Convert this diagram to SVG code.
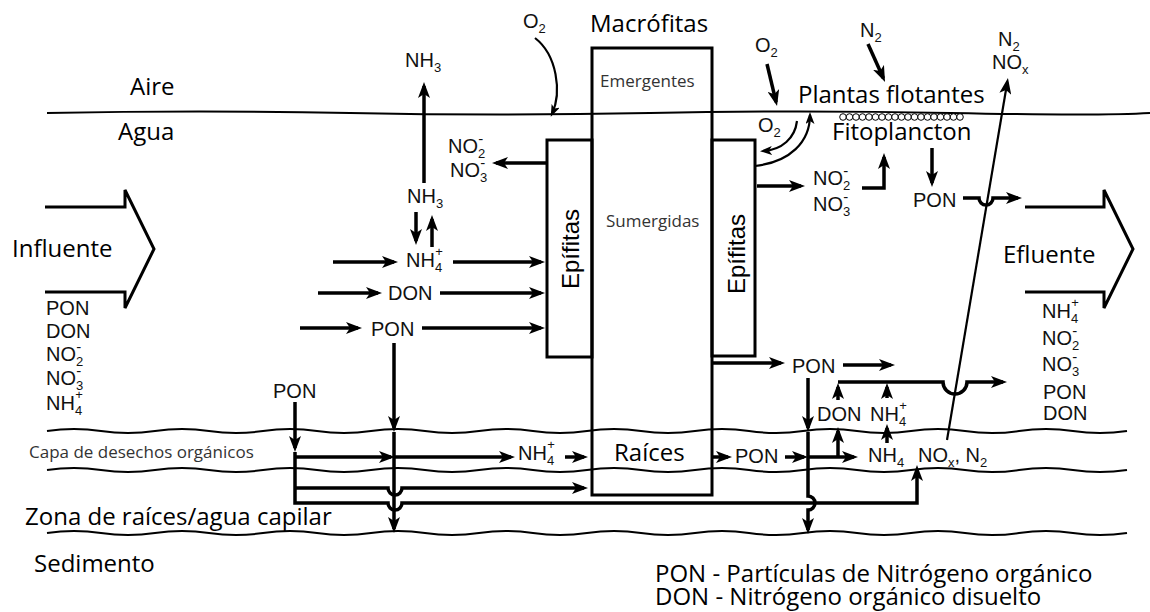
<svg xmlns="http://www.w3.org/2000/svg" width="1150" height="612" viewBox="0 0 1150 612">
<style>
.ln{fill:none;stroke:#000;stroke-width:3.5}
.th{fill:none;stroke:#000;stroke-width:2.2}
.a{marker-end:url(#ah)}
.as{marker-end:url(#asm)}
.box{fill:none;stroke:#000;stroke-width:3}
.wave{fill:none;stroke:#000;stroke-width:2}
.chem{font-family:"Liberation Sans",Arial,sans-serif;font-size:20px;fill:#111}
.sub{font-size:13px}
.sup{font-size:15px}
.lbl{font-family:"Open Sans","Noto Sans",sans-serif;font-size:24px;fill:#000}
.sm{font-family:"Open Sans","Noto Sans",sans-serif;font-size:17px;fill:#333}
.ep{font-family:"Liberation Sans",Arial,sans-serif;font-size:24px;fill:#000}
</style>
<defs>
<marker id="ah" viewBox="0 0 16 12" refX="12" refY="6" markerWidth="16" markerHeight="12" markerUnits="userSpaceOnUse" orient="auto"><path d="M0,0 L16,6 L0,12 L4,6 z" fill="#000"/></marker>
<marker id="asm" viewBox="0 0 12 9" refX="9" refY="4.5" markerWidth="12" markerHeight="9" markerUnits="userSpaceOnUse" orient="auto"><path d="M0,0 L12,4.5 L0,9 L3,4.5 z" fill="#000"/></marker>
</defs>

<g id="layers">
<path class="wave" d="M47,113 Q200,110 350,113 T650,113 T950,113 T1150,113" stroke-width="1.8"/>
<path class="wave" d="M47,431 Q74,427 101,431 T155,431 T209,431 T263,431 T317,431 T371,431 T425,431 T479,431 T533,431 T587,431 T641,431 T695,431 T749,431 T803,431 T857,431 T911,431 T965,431 T1019,431 T1073,431 T1127,431"/>
<path class="wave" d="M47,470 Q74,466 101,470 T155,470 T209,470 T263,470 T317,470 T371,470 T425,470 T479,470 T533,470 T587,470 T641,470 T695,470 T749,470 T803,470 T857,470 T911,470 T965,470 T1019,470 T1073,470 T1127,470"/>
<path class="wave" d="M47,533 Q74,529 101,533 T155,533 T209,533 T263,533 T317,533 T371,533 T425,533 T479,533 T533,533 T587,533 T641,533 T695,533 T749,533 T803,533 T857,533 T911,533 T965,533 T1019,533 T1073,533 T1127,533"/>
</g>

<g id="macrofitas">
<rect class="box" x="592" y="48" width="120" height="447"/>
<text class="lbl" x="590" y="32">Macrófitas</text>
<text class="sm" x="600" y="87">Emergentes</text>
<text class="sm" x="606" y="227" font-size="18">Sumergidas</text>
<text class="lbl" x="614" y="461">Raíces</text>
</g>
<g id="epifitas-izq">
<rect class="box" x="547" y="140" width="45" height="217"/>
<text class="ep" transform="translate(579,249) rotate(-90)" text-anchor="middle">Epífitas</text>
</g>
<g id="epifitas-der">
<rect class="box" x="712" y="140" width="43" height="216"/>
<text class="ep" transform="translate(745,254) rotate(-90)" text-anchor="middle">Epífitas</text>
</g>
<g id="influente">
<path class="box" d="M45,207 H125 V190 L154,249 L125,308 V292 H45"/>
<text class="lbl" x="12" y="257">Influente</text>
<text class="chem" x="46" y="315">PON</text>
<text class="chem" x="46" y="338">DON</text>
<text class="chem" x="46" y="361">NO<tspan class="sub" dy="5">2</tspan><tspan class="sup" dx="-7" dy="-14">-</tspan></text>
<text class="chem" x="46" y="385">NO<tspan class="sub" dy="5">3</tspan><tspan class="sup" dx="-7" dy="-14">-</tspan></text>
<text class="chem" x="46" y="410">NH<tspan class="sub" dy="5">4</tspan><tspan class="sub" dx="-7" dy="-16">+</tspan></text>
</g>
<g id="efluente">
<path class="box" d="M1025,207 H1104 V190 L1133,249 L1104,308 V292 H1025"/>
<text class="lbl" x="1003" y="263">Efluente</text>
<text class="chem" x="1042" y="318">NH<tspan class="sub" dy="5">4</tspan><tspan class="sub" dx="-7" dy="-16">+</tspan></text>
<text class="chem" x="1042" y="345">NO<tspan class="sub" dy="5">2</tspan><tspan class="sup" dx="-7" dy="-14">-</tspan></text>
<text class="chem" x="1042" y="371">NO<tspan class="sub" dy="5">3</tspan><tspan class="sup" dx="-7" dy="-14">-</tspan></text>
<text class="chem" x="1043" y="399">PON</text>
<text class="chem" x="1043" y="420">DON</text>
</g>
<g id="plantas-flotantes">
<text class="lbl" x="798" y="103">Plantas flotantes</text>
<text class="lbl" x="832" y="140">Fitoplancton</text>
<g fill="#fff" stroke="#000" stroke-width="1">
<circle cx="843" cy="117" r="3.3"/><circle cx="849.5" cy="117" r="3.3"/><circle cx="856" cy="117" r="3.3"/><circle cx="862.5" cy="117" r="3.3"/><circle cx="869" cy="117" r="3.3"/><circle cx="875.5" cy="117" r="3.3"/><circle cx="882" cy="117" r="3.3"/><circle cx="888.5" cy="117" r="3.3"/><circle cx="895" cy="117" r="3.3"/><circle cx="901.5" cy="117" r="3.3"/><circle cx="908" cy="117" r="3.3"/><circle cx="914.5" cy="117" r="3.3"/><circle cx="921" cy="117" r="3.3"/><circle cx="927.5" cy="117" r="3.3"/><circle cx="934" cy="117" r="3.3"/><circle cx="940.5" cy="117" r="3.3"/><circle cx="947" cy="117" r="3.3"/><circle cx="953.5" cy="117" r="3.3"/><circle cx="960" cy="117" r="3.3"/>
</g>
</g>
<g id="labels">
<text class="lbl" x="130" y="95">Aire</text>
<text class="lbl" x="118" y="140">Agua</text>
<text class="sm" x="29" y="458" font-size="18">Capa de desechos orgánicos</text>
<text class="lbl" x="25" y="525" font-size="25">Zona de raíces/agua capilar</text>
<text class="lbl" x="34" y="572">Sedimento</text>
<text class="lbl" x="655" y="582">PON - Partículas de Nitrógeno orgánico</text>
<text class="lbl" x="655" y="605">DON - Nitrógeno orgánico disuelto</text>
</g>
<g id="species">
<text class="chem" x="523" y="28" font-size="21">O<tspan class="sub" dy="5" font-size="14">2</tspan></text>
<text class="chem" x="755" y="52" font-size="21">O<tspan class="sub" dy="5" font-size="14">2</tspan></text>
<text class="chem" x="758" y="132">O<tspan class="sub" dy="5">2</tspan></text>
<text class="chem" x="860" y="37">N<tspan class="sub" dy="5">2</tspan></text>
<text class="chem" x="998" y="46">N<tspan class="sub" dy="5">2</tspan></text>
<text class="chem" x="992" y="69">NO<tspan class="sub" dy="5">x</tspan></text>
<text class="chem" x="405" y="67">NH<tspan class="sub" dy="5">3</tspan></text>
<text class="chem" x="448" y="153">NO<tspan class="sub" dy="5">2</tspan><tspan class="sup" dx="-7" dy="-14">-</tspan></text>
<text class="chem" x="450" y="177">NO<tspan class="sub" dy="5">3</tspan><tspan class="sup" dx="-7" dy="-14">-</tspan></text>
<text class="chem" x="407" y="203">NH<tspan class="sub" dy="5">3</tspan></text>
<text class="chem" x="406" y="267">NH<tspan class="sub" dy="5">4</tspan><tspan class="sub" dx="-7" dy="-16">+</tspan></text>
<text class="chem" x="388" y="300">DON</text>
<text class="chem" x="371" y="336">PON</text>
<text class="chem" x="273" y="398">PON</text>
<text class="chem" x="518" y="460">NH<tspan class="sub" dy="5">4</tspan><tspan class="sub" dx="-7" dy="-16">+</tspan></text>
<text class="chem" x="735" y="463">PON</text>
<text class="chem" x="868" y="462">NH<tspan class="sub" dy="5">4</tspan></text>
<text class="chem" x="918" y="462">NO<tspan class="sub" dy="5">x</tspan><tspan dy="-5">, N</tspan><tspan class="sub" dy="5">2</tspan></text>
<text class="chem" x="817" y="421">DON</text>
<text class="chem" x="870" y="421">NH<tspan class="sub" dy="5">4</tspan><tspan class="sub" dx="-7" dy="-16">+</tspan></text>
<text class="chem" x="792" y="373">PON</text>
<text class="chem" x="813" y="185">NO<tspan class="sub" dy="5">2</tspan><tspan class="sup" dx="-7" dy="-14">-</tspan></text>
<text class="chem" x="813" y="211">NO<tspan class="sub" dy="5">3</tspan><tspan class="sup" dx="-7" dy="-14">-</tspan></text>
<text class="chem" x="913" y="207">PON</text>
</g>

<g id="connectors">
<path class="ln a" d="M424,183 V86"/>
<path class="th as" d="M535,38 C557,55 562,92 552,114"/>
<path class="ln a" d="M547,163 H496"/>
<path class="ln a" d="M416,212 V241"/>
<path class="ln a" d="M432,247 V219"/>
<path class="ln a" d="M333,262 H394"/>
<path class="ln a" d="M453,262 H541"/>
<path class="ln a" d="M318,293 H378"/>
<path class="ln a" d="M440,293 H541"/>
<path class="ln a" d="M300,328 H358"/>
<path class="ln a" d="M422,328 H541"/>
<path class="ln a" d="M394,343 V428"/>
<path class="ln a" d="M394,432 V529"/>
<path class="ln a" d="M295,402 V448"/>
<path class="ln a" d="M295,452 V503 H388 a7,7 0 0 0 14,0 H917 V469"/>
<path class="ln a" d="M295,457 H391"/>
<path class="ln a" d="M395,457 H511"/>
<path class="ln a" d="M565,457 H584"/>
<path class="ln a" d="M295,488 H388 a7,7 0 0 0 14,0 H584"/>
<path class="ln a" d="M712,457 H728"/>
<path class="ln a" d="M785,457 H804"/>
<path class="ln a" d="M808,457 H854"/>
<path class="ln a" d="M838,457 V431"/>
<path class="ln a" d="M887,443 V428"/>
<path class="ln a" d="M838,400 V387"/>
<path class="ln a" d="M887,398 V387"/>
<path class="ln a" d="M838,382 H943 a12,12 0 0 0 24,0 H1003"/>
<path class="ln a" d="M963,198 H979 a7,7 0 0 0 14,0 H1018"/>
<path class="th a" d="M947,440 L1007.3,82" stroke-width="2.8"/>
<path class="ln a" d="M757,186 H801"/>
<path class="ln a" d="M862,188 H884 V157"/>
<path class="ln a" d="M932,148 V183"/>
<path class="ln a" d="M767,64 L776.1,102.1"/>
<path class="ln a" d="M868,44 L883.4,78.3"/>
<path class="th as" d="M797,121 C795,138 782,150 763,151"/>
<path class="th as" d="M755,166 C790,162 810,142 810,115"/>
<path class="ln a" d="M712,363 H781"/>
<path class="ln a" d="M843,365 H891"/>
<path class="ln a" d="M808,378 V428"/>
<path class="ln a" d="M808,432 V496 a7,7 0 0 1 0,14 V530"/>
</g>
</svg>
